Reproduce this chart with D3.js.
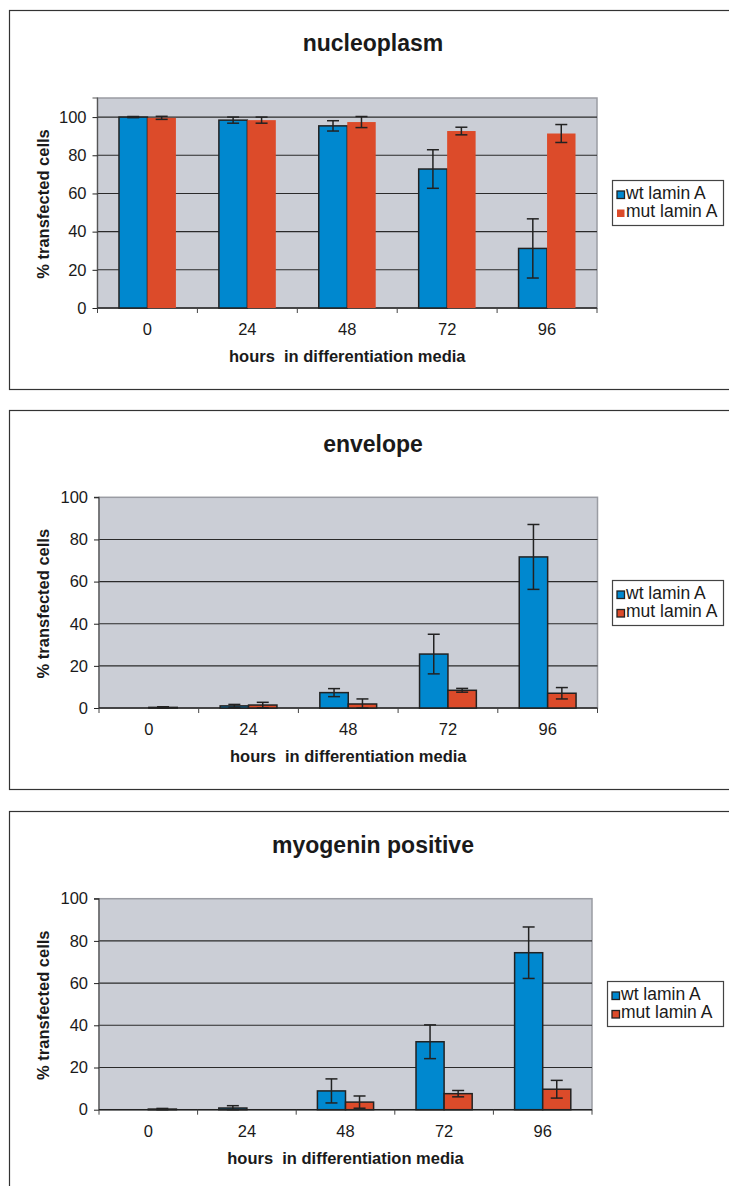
<!DOCTYPE html>
<html>
<head>
<meta charset="utf-8">
<script src="https://cdn.jsdelivr.net/npm/d3@7"></script>
<style>
  body { margin: 0; background: #fff; }
  svg { display: block; font-family: "Liberation Sans", Arial, sans-serif; }
  text { white-space: pre; }
</style>
</head>
<body>
<svg id="chart" width="729" height="1186"></svg>
<script>
// ---------- data ----------
const categories = ["0", "24", "48", "72", "96"];
const seriesNames = ["wt lamin A", "mut lamin A"];
const yTicks = [0, 20, 40, 60, 80, 100];
const xTitle = "hours  in differentiation media";
const yTitle = "% transfected cells";

const nucleoplasmWt     = [100, 98.4, 95.4, 72.8, 31.2];
const nucleoplasmWtErr  = [0.3, 1.6, 2.7, 10.1, 15.5];
const nucleoplasmMut    = [99.6, 98.4, 97.4, 92.7, 91.4];
const nucleoplasmMutErr = [0.8, 1.6, 2.9, 2.0, 4.7];

const envelopeWt     = [0, 1.0, 7.3, 25.6, 71.7];
const envelopeWtErr  = [0, 0.7, 1.9, 9.4, 15.4];
const envelopeMut    = [0.3, 1.4, 1.9, 8.4, 7.0];
const envelopeMutErr = [0.3, 1.3, 2.4, 0.9, 2.7];

const myogeninWt     = [0, 0.8, 8.9, 32.2, 74.4];
const myogeninWtErr  = [0, 1.1, 5.7, 8.0, 12.2];
const myogeninMut    = [0.3, 0, 3.6, 7.6, 9.7];
const myogeninMutErr = [0.3, 0, 2.9, 1.5, 4.2];

// ---------- styles / layout ----------
const colors = ["#0088cf", "#dc4b2a"];
const plotBg = "#cbced6";
const ink = "#222";

const panels = [
  { title: "nucleoplasm", values: [nucleoplasmWt, nucleoplasmMut], errs: [nucleoplasmWtErr, nucleoplasmMutErr],
    box: {x: 9.5, y: 10.5, w: 735, h: 379}, titleY: 51,
    plot: {l: 97.5, r: 597, t: 98, b: 308}, yMax: 110,
    legend: {x: 612.5, y: 180.5, w: 111, h: 45}, strokes: [true, false] },
  { title: "envelope", values: [envelopeWt, envelopeMut], errs: [envelopeWtErr, envelopeMutErr],
    box: {x: 9.5, y: 410.5, w: 735, h: 379}, titleY: 451.5,
    plot: {l: 99, r: 597.5, t: 497.3, b: 708}, yMax: 100,
    legend: {x: 612.5, y: 580.5, w: 111, h: 45}, strokes: [true, true] },
  { title: "myogenin positive", values: [myogeninWt, myogeninMut], errs: [myogeninWtErr, myogeninMutErr],
    box: {x: 9.5, y: 811.5, w: 735, h: 420}, titleY: 853,
    plot: {l: 99, r: 592, t: 898.7, b: 1109.7}, yMax: 100,
    legend: {x: 607.5, y: 981.5, w: 116, h: 45}, strokes: [true, true] }
];

const svg = d3.select("#chart");

panels.forEach(p => {
  const g = svg.append("g");

  // outer frame
  g.append("rect")
    .attr("x", p.box.x).attr("y", p.box.y).attr("width", p.box.w).attr("height", p.box.h)
    .attr("fill", "#fff").attr("stroke", "#333").attr("stroke-width", 1.2);

  // title
  g.append("text")
    .attr("x", 373).attr("y", p.titleY)
    .attr("text-anchor", "middle")
    .attr("font-size", 23).attr("font-weight", "bold").attr("fill", "#1a1a1a")
    .text(p.title);

  const x0 = d3.scaleBand().domain(categories).range([p.plot.l, p.plot.r]).padding(0);
  const x1 = d3.scaleBand().domain([0, 1]).range([0, x0.bandwidth()]).paddingInner(0).paddingOuter(0.755);
  const y = d3.scaleLinear().domain([0, p.yMax]).range([p.plot.b, p.plot.t]);

  // plot background
  g.append("rect")
    .attr("x", p.plot.l).attr("y", p.plot.t)
    .attr("width", p.plot.r - p.plot.l).attr("height", p.plot.b - p.plot.t)
    .attr("fill", plotBg).attr("stroke", "#9a9ca3").attr("stroke-width", 1.5);

  // gridlines
  g.append("g").selectAll("line")
    .data(yTicks.filter(v => v > 0 && y(v) > p.plot.t + 1))
    .join("line")
    .attr("x1", p.plot.l).attr("x2", p.plot.r)
    .attr("y1", d => y(d)).attr("y2", d => y(d))
    .attr("stroke", "#2a2a2a").attr("stroke-width", 1.1);

  // y axis
  const yAxis = d3.axisLeft(y).tickValues(yTicks).tickSize(5).tickPadding(6).tickFormat(d3.format("d"));
  const ya = g.append("g").attr("transform", `translate(${p.plot.l},0)`).call(yAxis);
  ya.select(".domain").attr("stroke", "#555").attr("stroke-width", 1.2)
    .attr("d", `M-5,${p.plot.t}H0V${p.plot.b}`);
  ya.selectAll(".tick line").attr("stroke", ink);
  ya.selectAll(".tick text").attr("font-size", 16.5).attr("fill", "#1a1a1a")
    .attr("font-family", "'Liberation Sans', Arial, sans-serif");

  // x axis (ticks at category boundaries)
  const boundaries = categories.map(c => x0(c)).concat([p.plot.r]);
  const xa = g.append("g");
  xa.append("line")
    .attr("x1", p.plot.l).attr("x2", p.plot.r).attr("y1", p.plot.b).attr("y2", p.plot.b)
    .attr("stroke", ink).attr("stroke-width", 1.5);
  xa.selectAll(".bt").data(boundaries).join("line").attr("class", "bt")
    .attr("x1", d => d).attr("x2", d => d).attr("y1", p.plot.b).attr("y2", p.plot.b + 5)
    .attr("stroke", "#444").attr("stroke-width", 1);
  xa.selectAll(".cl").data(categories).join("text").attr("class", "cl")
    .attr("x", d => x0(d) + x0.bandwidth() / 2).attr("y", p.plot.b + 27)
    .attr("text-anchor", "middle").attr("font-size", 16.5).attr("fill", "#1a1a1a")
    .text(d => d);

  // axis titles
  g.append("text")
    .attr("x", (p.plot.l + p.plot.r) / 2).attr("y", p.plot.b + 54)
    .attr("text-anchor", "middle").attr("font-size", 16.5).attr("font-weight", "bold").attr("fill", "#1a1a1a")
    .text(xTitle);
  g.append("text")
    .attr("transform", `translate(49,${(p.plot.t + p.plot.b) / 2 + 1}) rotate(-90)`)
    .attr("text-anchor", "middle").attr("font-size", 16.5).attr("font-weight", "bold").attr("fill", "#1a1a1a")
    .text(yTitle);

  // bars
  p.values.forEach((vals, si) => {
    const sg = g.append("g");
    sg.selectAll("rect").data(categories).join("rect")
      .attr("x", c => x0(c) + x1(si))
      .attr("width", x1.bandwidth())
      .attr("y", (c, i) => y(vals[i]))
      .attr("height", (c, i) => y(0) - y(vals[i]))
      .attr("fill", colors[si])
      .attr("stroke", p.strokes[si] ? ink : "none")
      .attr("stroke-width", 1.5);
  });

  // error bars
  p.values.forEach((vals, si) => {
    const errs = p.errs[si];
    const eg = g.append("g").attr("stroke", ink).attr("stroke-width", 1.5);
    categories.forEach((c, i) => {
      if (errs[i] <= 0) return;
      const cx = x0(c) + x1(si) + x1.bandwidth() / 2;
      const yt = y(vals[i] + errs[i]);
      const yb = y(Math.max(0, vals[i] - errs[i]));
      eg.append("line").attr("x1", cx).attr("x2", cx).attr("y1", yt).attr("y2", yb);
      eg.append("line").attr("x1", cx - 6).attr("x2", cx + 6).attr("y1", yt).attr("y2", yt);
      eg.append("line").attr("x1", cx - 6).attr("x2", cx + 6).attr("y1", yb).attr("y2", yb);
    });
  });

  // legend
  const lg = g.append("g").attr("transform", `translate(${p.legend.x},${p.legend.y})`);
  lg.append("rect").attr("width", p.legend.w).attr("height", p.legend.h)
    .attr("fill", "#fff").attr("stroke", "#444").attr("stroke-width", 1.2);
  seriesNames.forEach((name, si) => {
    lg.append("rect")
      .attr("x", 4.5).attr("y", 10.5 + si * 18.5).attr("width", 7.5).attr("height", 7.5)
      .attr("fill", colors[si])
      .attr("stroke", p.strokes[si] ? ink : "none").attr("stroke-width", 1.3);
    lg.append("text")
      .attr("x", 13.5).attr("y", 18 + si * 18.5)
      .attr("font-size", 17.5).attr("fill", "#1a1a1a")
      .text(name);
  });
});
</script>
</body>
</html>
